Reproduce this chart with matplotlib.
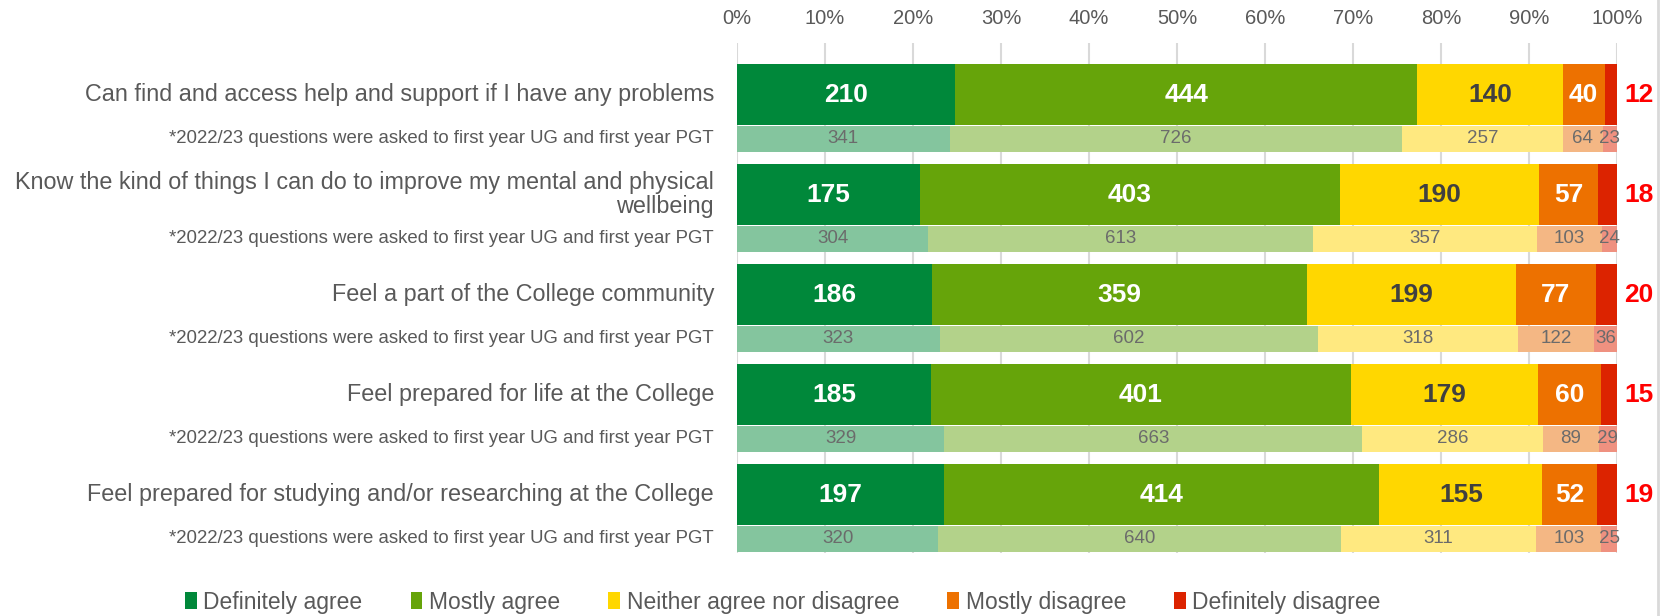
import matplotlib
matplotlib.use("Agg")
import matplotlib.pyplot as plt
from matplotlib.patches import Patch
from matplotlib.lines import Line2D
import numpy as np

plt.rcParams['font.family'] = ['Liberation Sans', 'DejaVu Sans']

categories = [
    "Can find and access help and support if I have any problems",
    "Know the kind of things I can do to improve my mental and physical\nwellbeing",
    "Feel a part of the College community",
    "Feel prepared for life at the College",
    "Feel prepared for studying and/or researching at the College",
]
sub_label = "*2022/23 questions were asked to first year UG and first year PGT"
responses = ["Definitely agree", "Mostly agree", "Neither agree nor disagree",
             "Mostly disagree", "Definitely disagree"]

# current year counts
definitely_agree = [210, 175, 186, 185, 197]
mostly_agree = [444, 403, 359, 401, 414]
neither = [140, 190, 199, 179, 155]
mostly_disagree = [40, 57, 77, 60, 52]
definitely_disagree = [12, 18, 20, 15, 19]

# 2022/23 counts
prev_definitely_agree = [341, 304, 323, 329, 320]
prev_mostly_agree = [726, 613, 602, 663, 640]
prev_neither = [257, 357, 318, 286, 311]
prev_mostly_disagree = [64, 103, 122, 89, 103]
prev_definitely_disagree = [23, 24, 36, 29, 25]

ticks = [0, 10, 20, 30, 40, 50, 60, 70, 80, 90, 100]

colors = ["#00883A", "#66A40A", "#FFD700", "#ED7100", "#DC2300"]
light_colors = ["#84C59E", "#B3D28A", "#FFE980", "#F4B784", "#EF9180"]
main_text_colors = ["white", "white", "#404040", "white", None]

cur = np.array([definitely_agree, mostly_agree, neither, mostly_disagree, definitely_disagree], float)
prev = np.array([prev_definitely_agree, prev_mostly_agree, prev_neither,
                 prev_mostly_disagree, prev_definitely_disagree], float)
cur_pct = cur / cur.sum(axis=0) * 100
prev_pct = prev / prev.sum(axis=0) * 100

fig = plt.figure(figsize=(16.7, 6.16), dpi=100)
ax = fig.add_axes([737/1670, 1-553/616, 880/1670, 510/616])

n = len(categories)
main_y = np.arange(n) + 0.515
sub_y = np.arange(n) + 0.955
main_h = 0.61
sub_h = 0.26

for j in range(5):
    left_c = cur_pct[:j].sum(axis=0)
    left_p = prev_pct[:j].sum(axis=0)
    ax.barh(main_y, cur_pct[j], left=left_c, height=main_h, color=colors[j], zorder=2)
    ax.barh(sub_y, prev_pct[j], left=left_p, height=sub_h, color=light_colors[j], zorder=2)
    for i in range(n):
        if j < 4:
            ax.text(left_c[i] + cur_pct[j, i]/2, main_y[i], f"{int(cur[j, i])}",
                    ha='center', va='center', fontsize=19, fontweight='bold',
                    color=main_text_colors[j], zorder=3)
        else:
            ax.annotate(f"{int(cur[j, i])}", xy=(100, main_y[i]), xytext=(5, 0),
                        textcoords='offset points', ha='left', va='center',
                        fontsize=19, fontweight='bold', color='#FF0000',
                        annotation_clip=False)
        ax.text(left_p[i] + prev_pct[j, i]/2, sub_y[i], f"{int(prev[j, i])}",
                ha='center', va='center', fontsize=13.5, color='#6B6B6B', zorder=3,
                clip_on=False)

for i in range(n):
    ax.annotate(categories[i], xy=(0, main_y[i]), xycoords=('axes fraction', 'data'),
                xytext=(-16.5, 0), textcoords='offset points', ha='right', va='center',
                multialignment='right', fontsize=16.8, color='#595959', linespacing=1.05)
    ax.annotate(sub_label, xy=(0, sub_y[i]), xycoords=('axes fraction', 'data'),
                xytext=(-16.5, 0), textcoords='offset points', ha='right', va='center',
                fontsize=13.45, color='#595959')

ax.set_xlim(0, 100)
ax.set_ylim(5.1, 0)
ax.set_xticks(ticks)
ax.set_xticklabels([f"{t}%" for t in ticks], fontsize=14.5, color='#595959')
ax.xaxis.tick_top()
ax.tick_params(axis='x', length=0, pad=11)
ax.set_yticks([])
ax.grid(axis='x', color='#D9D9D9', linewidth=1.5, zorder=0)
ax.set_axisbelow(True)
for s in ax.spines.values():
    s.set_visible(False)

handles = [Patch(facecolor=c, edgecolor='none') for c in colors]
fig.legend(handles, responses, loc='center', bbox_to_anchor=(783/1670, 1-602/616),
           ncol=5, frameon=False, fontsize=16.5, handlelength=0.5, handleheight=0.7,
           handletextpad=0.3, columnspacing=2.1, labelcolor='#595959')

fig.add_artist(Line2D([1658/1670, 1658/1670], [0, 1], transform=fig.transFigure,
                      color='#D9D9D9', linewidth=2))

fig.savefig("out.png", dpi=100)
